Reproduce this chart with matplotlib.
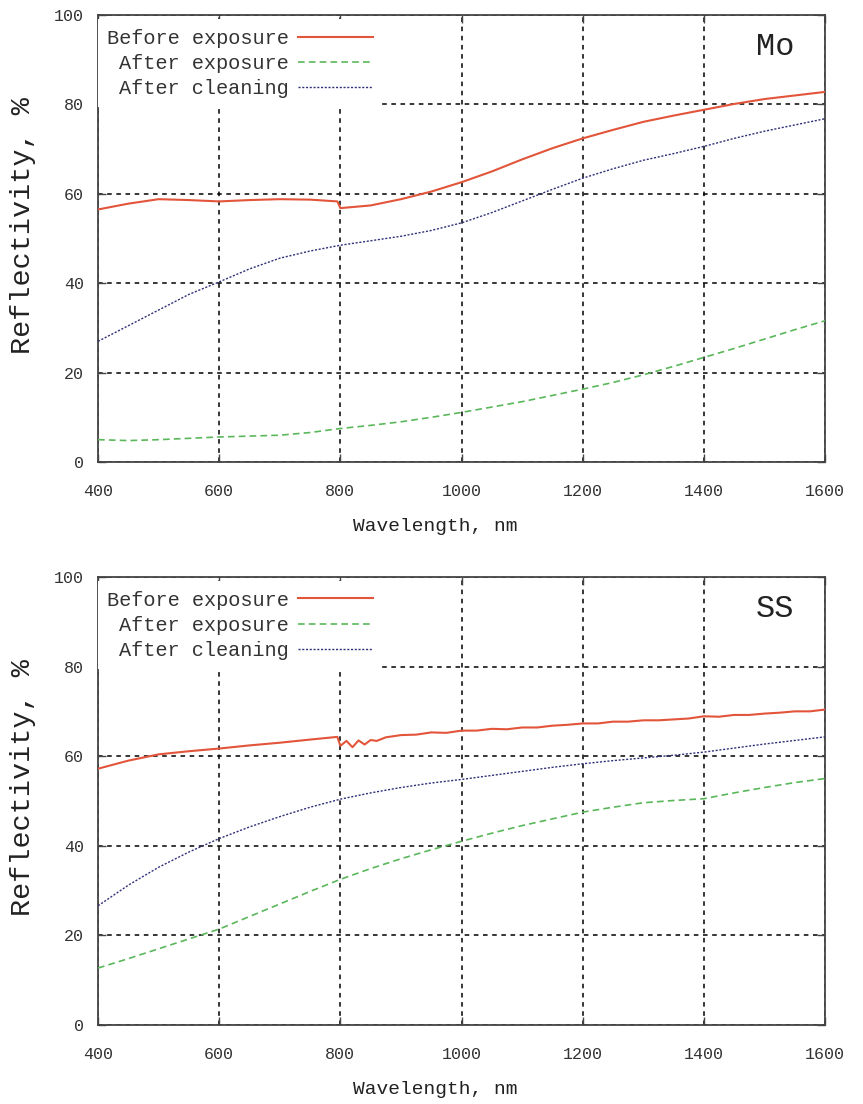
import matplotlib
matplotlib.use("Agg")
import matplotlib.pyplot as plt

plt.rcParams['font.family'] = ['Liberation Mono', 'DejaVu Sans Mono']

# ---------------- data ----------------
wl_smooth = [400, 450, 500, 550, 600, 650, 700, 750, 800, 850, 900, 950, 1000,
             1050, 1100, 1150, 1200, 1250, 1300, 1350, 1400, 1450, 1500, 1550, 1600]

# Mo
mo_before_wl = [400, 450, 500, 550, 600, 650, 700, 750, 795, 800, 850, 900, 950, 1000,
                1050, 1100, 1150, 1200, 1250, 1300, 1350, 1400, 1450, 1500, 1550, 1600]
mo_before = [56.5, 57.8, 58.8, 58.6, 58.3, 58.6, 58.8, 58.7, 58.3, 56.8, 57.4, 58.8, 60.5, 62.6,
             65.0, 67.7, 70.2, 72.4, 74.3, 76.1, 77.5, 78.8, 80.1, 81.2, 82.0, 82.8]
mo_after_exp = [5.0, 4.8, 5.0, 5.3, 5.6, 5.8, 6.0, 6.6, 7.5, 8.2, 9.0, 10.0, 11.1,
                12.3, 13.5, 14.9, 16.3, 17.8, 19.5, 21.4, 23.4, 25.4, 27.5, 29.6, 31.6]
mo_after_clean = [27.0, 30.5, 34.0, 37.5, 40.3, 43.2, 45.6, 47.2, 48.5, 49.5, 50.5, 51.8, 53.5,
                  55.8, 58.4, 61.0, 63.5, 65.6, 67.5, 69.0, 70.6, 72.4, 74.0, 75.4, 76.8]

# SS
ss_before_wl = [400, 450, 500, 550, 600, 650, 700, 750, 795, 800, 810, 820, 830, 840, 850,
                860, 875, 900, 925, 950, 975, 1000, 1025, 1050, 1075, 1100, 1125, 1150,
                1175, 1200, 1225, 1250, 1275, 1300, 1325, 1350, 1375, 1400, 1425, 1450,
                1475, 1500, 1525, 1550, 1575, 1600]
ss_before = [57.2, 59.0, 60.4, 61.1, 61.7, 62.4, 63.0, 63.7, 64.3, 62.3, 63.4, 62.0, 63.5, 62.6, 63.6,
             63.4, 64.2, 64.7, 64.8, 65.3, 65.2, 65.7, 65.7, 66.1, 66.0, 66.4, 66.4, 66.8,
             67.0, 67.3, 67.3, 67.7, 67.7, 68.0, 68.0, 68.2, 68.4, 68.9, 68.8, 69.2,
             69.2, 69.5, 69.7, 70.0, 70.0, 70.4]
ss_after_exp = [12.7, 14.8, 17.0, 19.2, 21.4, 24.2, 27.0, 29.8, 32.5, 34.9, 37.1, 39.1, 41.0,
                42.8, 44.5, 46.0, 47.5, 48.6, 49.6, 50.1, 50.5, 51.8, 53.0, 54.1, 55.0]
ss_after_clean = [26.6, 31.2, 35.2, 38.6, 41.6, 44.2, 46.5, 48.6, 50.4, 51.8, 53.0, 54.0, 54.8,
                  55.7, 56.6, 57.5, 58.3, 59.0, 59.6, 60.2, 60.9, 61.8, 62.7, 63.5, 64.3]

labels = ["Before exposure", "After exposure", "After cleaning"]
panel_names = ["Mo", "SS"]
xticks = [400, 600, 800, 1000, 1200, 1400, 1600]
yticks = [0, 20, 40, 60, 80, 100]

# ---------------- figure ----------------
fig = plt.figure(figsize=(8.63, 11.04), dpi=100)
ax1 = fig.add_axes([0.1136, 0.5815, 0.8424, 0.4049])
ax2 = fig.add_axes([0.1136, 0.0716, 0.8424, 0.4058])

c_red = "#e2553a"
c_green = "#5ab75a"
c_blue = "#30307a"

panels = [
    (ax1, (mo_before_wl, mo_before), mo_after_exp, mo_after_clean, panel_names[0]),
    (ax2, (ss_before_wl, ss_before), ss_after_exp, ss_after_clean, panel_names[1]),
]

for ax, (bwl, bval), aexp, aclean, name in panels:
    ax.plot(bwl, bval, color=c_red, lw=1.5, label=labels[0], zorder=3)
    ax.plot(wl_smooth, aexp, color=c_green, lw=1.2, ls=(0, (4, 2.5)), label=labels[1], zorder=3)
    ax.plot(wl_smooth, aclean, color=c_blue, lw=1.0, ls=(0, (1.5, 1.2)), label=labels[2], zorder=3)
    ax.set_xlim(400, 1600)
    ax.set_ylim(0, 100)
    ax.set_xticks(xticks)
    ax.set_yticks(yticks)
    ax.grid(True, color="black", ls=(0, (3, 3)), lw=1.1)
    ax.tick_params(direction="in", length=6, width=1, top=True, right=True,
                   labelsize=12, labelcolor="#333333", color="#444444")
    ax.tick_params(axis="x", pad=16)
    ax.tick_params(axis="y", pad=10)
    for s in ax.spines.values():
        s.set_color("#444444")
        s.set_linewidth(1.3)
    ax.set_xlabel("Wavelength, nm", fontsize=14, color="#222222", labelpad=12)
    ax.xaxis.set_label_coords(0.464, -0.125)
    ax.set_ylabel("Reflectivity, %", fontsize=20.5, color="#222222")
    ax.yaxis.set_label_coords(-0.086, 0.53)
    leg = ax.legend(loc="upper left", bbox_to_anchor=(0.0, 0.99), markerfirst=False,
                    frameon=True, fontsize=14.6, handlelength=3.7, handletextpad=0.45,
                    labelspacing=0.3, borderpad=0.45, borderaxespad=0.0, fancybox=False)
    leg.get_frame().set_facecolor("white")
    leg.get_frame().set_edgecolor("none")
    leg.get_frame().set_alpha(1.0)
    for t in leg.get_texts():
        t.set_color("#333333")
    ax.text(0.931, 0.928, name, transform=ax.transAxes, ha="center", va="center",
            fontsize=23, color="#222222",
            bbox=dict(facecolor="white", edgecolor="none", pad=6))

fig.savefig("out.png", dpi=100)
